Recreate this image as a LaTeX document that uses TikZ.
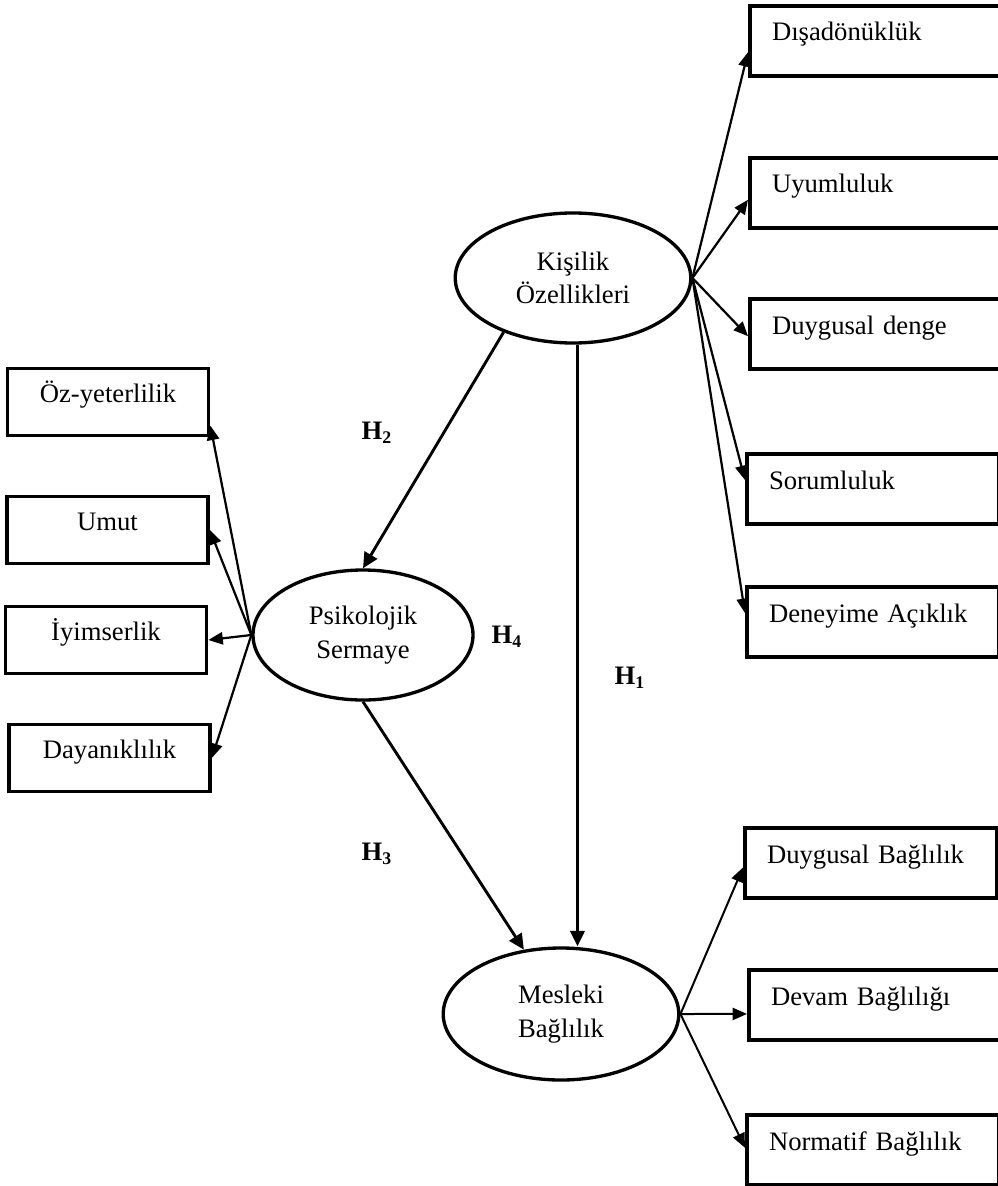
\documentclass[tikz,border=0pt]{standalone}
\usepackage{fontspec}
\setmainfont{Liberation Serif}
\usetikzlibrary{shapes.geometric,arrows.meta}

\begin{document}
\begin{tikzpicture}[x=0.45pt, y=-0.45pt,
  every node/.style={font=\fontsize{12}{15}\selectfont},
  latent/.style={ellipse, draw, line width=1.5pt, minimum width=106pt,
    minimum height=58.5pt, inner sep=0pt, align=center},
  dimbox/.style={rectangle, draw, line width=1.6pt, anchor=west,
    minimum width=113.4pt, minimum height=31.5pt, text width=93.4pt,
    inner xsep=10pt, align=left, text height=9pt, text depth=9pt},
  leftbox/.style={rectangle, draw, line width=1.6pt, minimum width=90.5pt,
    minimum height=30pt, align=center, text height=9pt, text depth=9pt},
  hyp/.style={font=\fontsize{12}{15}\selectfont\bfseries},
  conn/.style={-{Triangle[length=6.5pt,width=5.5pt]}, line width=1pt},
  mainpath/.style={-{Triangle[length=7pt,width=6.5pt]}, line width=1.3pt}]
  \useasboundingbox (0,0) rectangle (997,1186);

  % latent variables
  \node[latent] (kis) at (573,278) {Kişilik\\Özellikleri};
  \node[latent, minimum width=99pt] (psi) at (363,635) {Psikolojik\\Sermaye};
  \node[latent, minimum height=59.4pt] (mes) at (561,1014) {Mesleki\\Bağlılık};

  % dimensions
  \node[dimbox] (disa) at (748,41) {Dışadönüklük};
  \node[dimbox] (uyum) at (748,193) {Uyumluluk};
  \node[dimbox] (denge) at (748,334) {Duygusal denge};
  \node[dimbox] (sorum) at (745,489) {Sorumluluk};
  \node[dimbox] (acik) at (745,622) {Deneyime Açıklık};
  \node[dimbox] (duyb) at (743,863) {Duygusal Bağlılık};
  \node[dimbox] (devam) at (747,1005) {Devam Bağlılığı};
  \node[dimbox] (norm) at (745,1150) {Normatif Bağlılık};

  \node[leftbox] (oz) at (108,402) {Öz-yeterlilik};
  \node[leftbox] (umut) at (107.5,530) {Umut};
  \node[leftbox] (iyim) at (106,640) {İyimserlik};
  \node[leftbox] (dayan) at (109.5,758) {Dayanıklılık};

  % hypotheses
  \node[hyp] (h2) at (377,433) {H\textsubscript{2}};
  \node[hyp] (h4) at (507,637) {H\textsubscript{4}};
  \node[hyp] (h1) at (630,678) {H\textsubscript{1}};
  \node[hyp] (h3) at (377,854) {H\textsubscript{3}};

  \draw[mainpath] (kis.218) -- (psi.north);
  \draw[mainpath] (psi.south) -- (mes.120);
  \draw[mainpath] ([xshift=2pt]kis.south) -- ([xshift=2pt]kis.south |- mes.north);

  \foreach \b/\a in {disa/185, uyum/183, denge/181, sorum/176, acik/176}
    \draw[conn] (kis.east) -- (\b.\a);
  \foreach \b/\a in {oz/347, umut/0, iyim/0, dayan/0}
    \draw[conn] (psi.west) -- (\b.\a);
  \foreach \b/\a in {duyb/182, devam/184, norm/179}
    \draw[conn, line width=0.9pt] (mes.east) -- (\b.\a);
\end{tikzpicture}
\end{document}
